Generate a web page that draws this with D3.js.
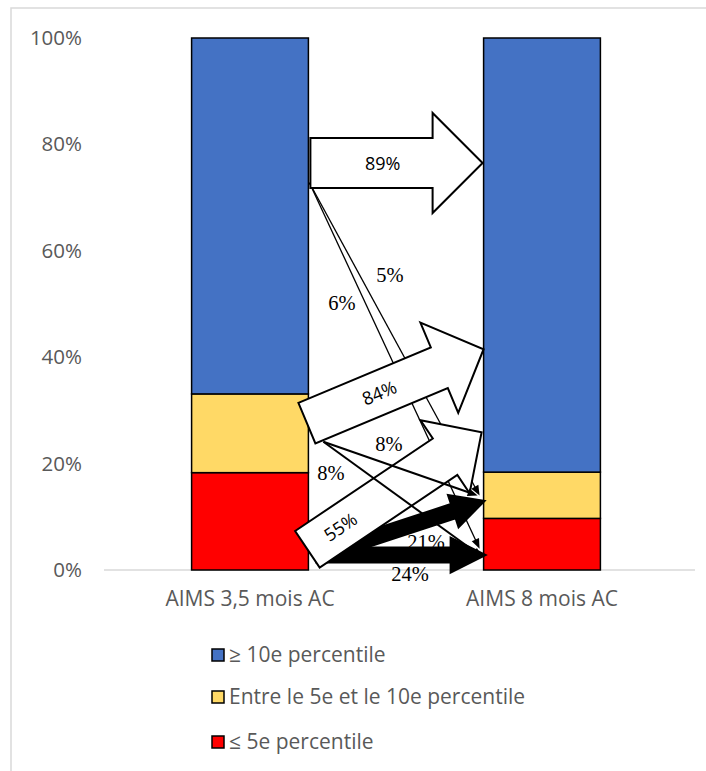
<!DOCTYPE html>
<html>
<head>
<meta charset="utf-8">
<script src="https://cdn.jsdelivr.net/npm/d3@7"></script>
<style>
  html, body { margin: 0; padding: 0; background: #fff; }
  svg { display: block; }
</style>
</head>
<body>
<svg id="chart" width="706" height="771"></svg>
<script>
// Categories (time points) and stacked shares (%) per class
const categories = ["AIMS 3,5 mois AC", "AIMS 8 mois AC"];
const seriesNames = ["≥ 10e percentile", "Entre le 5e et le 10e percentile", "≤ 5e percentile"];
const lowValues  = [18.3, 9.7];   // ≤ 5e percentile
const midValues  = [14.8, 8.7];   // entre le 5e et le 10e percentile
const highValues = [66.9, 81.6];  // ≥ 10e percentile
const yTicks = [0, 20, 40, 60, 80, 100];

// Transitions between the two assessments (% of each starting class)
const fromHigh = [89, 5, 6];   // to ≥10e, to 5e–10e, to ≤5e
const fromMid  = [84, 8, 8];
const fromLow  = [55, 21, 24];

const colors = { high: "#4472C4", mid: "#FFD966", low: "#FF0000" };
const axisGray = "#595959";
const sans = "'Open Sans', 'Noto Sans', sans-serif";
const serif = "Liberation Serif";

const svg = d3.select("#chart");

// Outer frame
svg.append("rect").attr("x", 11).attr("y", 8).attr("width", 720).attr("height", 800)
  .attr("fill", "none").attr("stroke", "#d9d9d9").attr("stroke-width", 1.5);

const x = d3.scaleBand().domain(categories).range([104, 688]).paddingInner(0.6).paddingOuter(0.3);
const y = d3.scaleLinear().domain([0, 100]).range([570, 38]);

// Baseline
svg.append("line").attr("x1", 104).attr("x2", 695).attr("y1", y(0)).attr("y2", y(0))
  .attr("stroke", "#d9d9d9").attr("stroke-width", 1.5);

// Y axis labels
const yAxis = d3.axisLeft(y).tickValues(yTicks).tickSize(0).tickPadding(0).tickFormat(d => d + "%");
const gy = svg.append("g").attr("transform", "translate(82,0)").call(yAxis);
gy.select(".domain").remove();
gy.selectAll("text").attr("fill", axisGray).attr("font-family", sans).attr("font-size", 20.5);

// X axis labels
const xAxis = d3.axisBottom(x).tickSize(0).tickPadding(0);
const gx = svg.append("g").attr("transform", "translate(0,591)").call(xAxis);
gx.select(".domain").remove();
gx.selectAll("text").attr("fill", axisGray).attr("font-family", sans).attr("font-size", 21).attr("dy", "0.71em");

// Stacked bars
const rows = categories.map((c, i) => ({ cat: c, low: lowValues[i], mid: midValues[i], high: highValues[i] }));
const stack = d3.stack().keys(["low", "mid", "high"])(rows);
svg.append("g").selectAll("g").data(stack).join("g")
  .attr("fill", d => colors[d.key])
  .selectAll("rect").data(d => d).join("rect")
  .attr("x", d => x(d.data.cat))
  .attr("width", x.bandwidth())
  .attr("y", d => y(d[1]))
  .attr("height", d => y(d[0]) - y(d[1]))
  .attr("stroke", "#000").attr("stroke-width", 1.5);

// ---- Transition arrows ----
const leftEdge = x(categories[0]) + x.bandwidth();
const rightEdge = x(categories[1]);

// Block arrow: back centre (x0,y0) to tip (x1,y1)
function blockArrow(g, x0, y0, x1, y1, shaft, head, headLen, fill) {
  const len = Math.hypot(x1 - x0, y1 - y0);
  const ang = Math.atan2(y1 - y0, x1 - x0) * 180 / Math.PI;
  const b = len - headLen;
  const p = `M0,${-shaft / 2}L${b},${-shaft / 2}L${b},${-head / 2}L${len},0L${b},${head / 2}L${b},${shaft / 2}L0,${shaft / 2}Z`;
  g.append("path").attr("d", p)
    .attr("transform", `translate(${x0},${y0}) rotate(${ang})`)
    .attr("fill", fill).attr("stroke", "#000").attr("stroke-width", 2).attr("stroke-linejoin", "miter");
}
function blockLabel(g, x0, y0, x1, y1, t, text) {
  const ang = Math.atan2(y1 - y0, x1 - x0) * 180 / Math.PI;
  const px = x0 + (x1 - x0) * t, py = y0 + (y1 - y0) * t;
  g.append("text").attr("transform", `translate(${px},${py}) rotate(${ang})`)
    .attr("text-anchor", "middle").attr("dy", "0.36em")
    .attr("font-family", sans).attr("font-size", 18).attr("fill", "#000").text(text);
}
function thinArrow(g, x0, y0, x1, y1, w) {
  const len = Math.hypot(x1 - x0, y1 - y0);
  const ang = Math.atan2(y1 - y0, x1 - x0) * 180 / Math.PI;
  const a = g.append("g").attr("transform", `translate(${x0},${y0}) rotate(${ang})`);
  a.append("line").attr("x1", 0).attr("y1", 0).attr("x2", len - 6).attr("y2", 0)
    .attr("stroke", "#000").attr("stroke-width", w);
  a.append("path").attr("d", `M${len},0L${len - 10},-4L${len - 10},4Z`).attr("fill", "#000");
}
function plainLabel(g, px, py, text) {
  g.append("text").attr("x", px).attr("y", py)
    .attr("text-anchor", "middle").attr("dy", "0.35em")
    .style("font-family", serif)
    .attr("font-size", 20.5).attr("fill", "#000").text(text);
}

const arrows = svg.append("g");

// From ≤ 5e percentile: stays low (24%) and to 5e–10e (21%), black
blockArrow(arrows, leftEdge + 8, y(2.8), rightEdge + 2, y(2.8), 15, 35, 35, "#000");
blockArrow(arrows, leftEdge + 8, y(2.6), rightEdge + 1, y(13), 15, 34, 33, "#000");

// From ≥ 10e percentile to lower classes (thin)
const hiStart = [leftEdge + 1, y(72.8)];
thinArrow(arrows, hiStart[0], hiStart[1], rightEdge - 4, y(14), 1.3);
thinArrow(arrows, hiStart[0], hiStart[1], rightEdge - 4, y(4), 1.3);

// From ≤ 5e percentile to ≥ 10e (55%)
const a55 = [leftEdge - 1, y(3.9), rightEdge - 2, y(25.9)];
blockArrow(arrows, ...a55, 44, 88, 44, "#fff");
blockLabel(arrows, ...a55, 0.19, fromLow[0] + "%");

// From 5e–10e to 5e–10e and to ≤ 5e (thin)
const midStart = [leftEdge + 15, y(24.1)];
thinArrow(arrows, midStart[0], midStart[1], rightEdge - 6, y(14), 2);
thinArrow(arrows, midStart[0], midStart[1], rightEdge - 1, y(2.4), 2);

// From 5e–10e to ≥ 10e (84%)
const a84 = [leftEdge - 1.5, y(27.6), rightEdge, y(41.5)];
blockArrow(arrows, ...a84, 44, 98, 48, "#fff");
blockLabel(arrows, ...a84, 0.41, fromMid[0] + "%");

// From ≥ 10e to ≥ 10e (89%)
const a89 = [leftEdge + 2, y(76.5), rightEdge - 1, y(76.5)];
blockArrow(arrows, ...a89, 50, 100, 50, "#fff");
blockLabel(arrows, ...a89, 0.42, fromHigh[0] + "%");

// Value labels for the thin and black arrows
plainLabel(arrows, 390, 275, fromHigh[1] + "%");
plainLabel(arrows, 342, 303, fromHigh[2] + "%");
plainLabel(arrows, 389, 444, fromMid[1] + "%");
plainLabel(arrows, 331, 473, fromMid[2] + "%");
plainLabel(arrows, 426, 542, fromLow[1] + "%");
plainLabel(arrows, 410, 574, fromLow[2] + "%");

// Legend
const legend = svg.append("g");
const legendKeys = ["high", "mid", "low"];
const legendY = [655, 697, 742];
legendKeys.forEach((k, i) => {
  legend.append("rect").attr("x", 212).attr("y", legendY[i] - 6).attr("width", 12).attr("height", 12)
    .attr("fill", colors[k]).attr("stroke", "#000").attr("stroke-width", 1.5);
  legend.append("text").attr("x", 229).attr("y", legendY[i]).attr("dy", "0.35em")
    .attr("font-family", sans).attr("font-size", 21).attr("fill", axisGray).text(seriesNames[i]);
});
</script>
</body>
</html>
